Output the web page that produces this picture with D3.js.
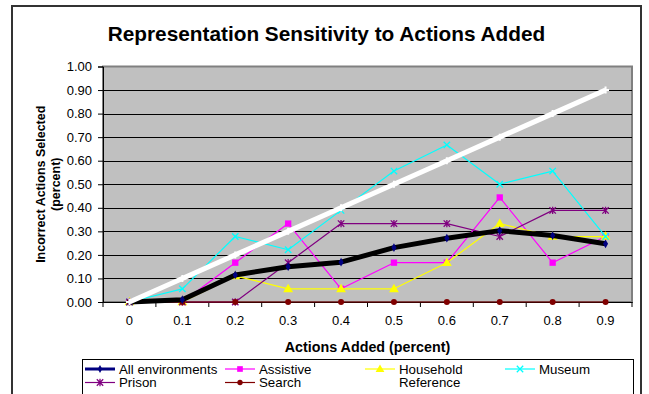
<!DOCTYPE html>
<html><head><meta charset="utf-8">
<script src="https://cdn.jsdelivr.net/npm/d3@7"></script>
<style>body{margin:0;background:#fff}svg{display:block;font-family:"Liberation Sans",Arial,sans-serif}</style>
</head><body><svg id="c" width="649" height="394"></svg>
<script>
const categories = ["0","0.1","0.2","0.3","0.4","0.5","0.6","0.7","0.8","0.9"];
const yTicks = [0,0.1,0.2,0.3,0.4,0.5,0.6,0.7,0.8,0.9,1.0];
const allEnv    = [0, 0.01, 0.115, 0.15, 0.169, 0.231, 0.271, 0.303, 0.282, 0.247];
const assistive = [0, 0, 0.167, 0.333, 0.056, 0.167, 0.167, 0.444, 0.167, 0.278];
const household = [0, 0, 0.111, 0.056, 0.056, 0.056, 0.167, 0.333, 0.278, 0.278];
const museum    = [0, 0.056, 0.278, 0.222, 0.389, 0.556, 0.667, 0.5, 0.556, 0.278];
const prison    = [0, 0, 0, 0.167, 0.333, 0.333, 0.333, 0.278, 0.389, 0.389];
const search    = [0, 0, 0, 0, 0, 0, 0, 0, 0, 0];
const reference = [0, 0.1, 0.2, 0.3, 0.4, 0.5, 0.6, 0.7, 0.8, 0.9];
const seriesNames = ["All environments","Assistive","Household","Museum","Prison","Search","Reference"];

const series = [
  {name:seriesNames[0], values:allEnv, color:"#000080", lineColor:"#000000", width:5, legendWidth:3, marker:"diamond"},
  {name:seriesNames[1], values:assistive, color:"#FF00FF", lineColor:"#FF00FF", width:1.2, legendWidth:1.2, marker:"square"},
  {name:seriesNames[2], values:household, color:"#FFFF00", lineColor:"#FFFF00", width:1.2, legendWidth:1.2, marker:"triangle"},
  {name:seriesNames[3], values:museum, color:"#00FFFF", lineColor:"#00FFFF", width:1.2, legendWidth:1.2, marker:"x"},
  {name:seriesNames[4], values:prison, color:"#800080", lineColor:"#800080", width:1.2, legendWidth:1.2, marker:"star"},
  {name:seriesNames[5], values:search, color:"#800000", lineColor:"#800000", width:1.2, legendWidth:1.2, marker:"circle"},
  {name:seriesNames[6], values:reference, color:"#FFFFFF", lineColor:"#FFFFFF", width:5, legendWidth:3, marker:"plus"}
];

const svg = d3.select("#c");
const W = 649, H = 394;
const L = 103, R = 632, T = 66.5, B = 302;

svg.append("rect").attr("x",0).attr("y",0).attr("width",W).attr("height",H).attr("fill","#fff");
svg.append("rect").attr("x",12).attr("y",6).attr("width",629).attr("height",420)
  .attr("fill","#fff").attr("stroke","#333").attr("stroke-width",2);

const x = d3.scaleBand().domain(categories).range([L,R]);
const y = d3.scaleLinear().domain([0,1]).range([B,T]);

// plot area
svg.append("rect").attr("x",L).attr("y",T).attr("width",R-L).attr("height",B-T)
  .attr("fill","#C0C0C0").attr("stroke","#808080").attr("stroke-width",2);

// gridlines
svg.append("g").selectAll("line").data(yTicks.filter(d=>d>0 && d<1)).join("line")
  .attr("x1",L).attr("x2",R).attr("y1",d=>Math.round(y(d))+0.5).attr("y2",d=>Math.round(y(d))+0.5)
  .attr("stroke","#000").attr("stroke-width",1);

// axes
const yAxis = d3.axisLeft(y).tickValues(yTicks).tickFormat(d3.format(".2f")).tickSize(5).tickPadding(6);
const gy = svg.append("g").attr("transform",`translate(${L},0)`).call(yAxis);
gy.selectAll("text").attr("font-size",13).attr("fill","#000").attr("font-family","Liberation Sans, Arial");
gy.select(".domain").attr("stroke","#000");
gy.selectAll(".tick line").attr("stroke","#000");

const xAxis = d3.axisBottom(x).tickSize(0).tickPadding(14);
const gx = svg.append("g").attr("transform",`translate(0,${B})`).call(xAxis);
gx.selectAll("text").attr("font-size",13).attr("fill","#000").attr("font-family","Liberation Sans, Arial");
gx.select(".domain").attr("stroke","#000");
// ticks between categories
const bounds = categories.map(c=>x(c)).concat([x(categories[categories.length-1])+x.bandwidth()]);
gx.append("g").selectAll("line").data(bounds).join("line")
  .attr("x1",d=>d).attr("x2",d=>d).attr("y1",0).attr("y2",5).attr("stroke","#000");

// marker drawing
function drawMarker(g, type, color, cx, cy, scale){
  const s = scale||1;
  if(type==="diamond"){
    g.append("path").attr("d",d3.symbol(d3.symbolDiamond, 22*s)()).attr("transform",`translate(${cx},${cy})`).attr("fill",color);
  } else if(type==="square"){
    g.append("path").attr("d",d3.symbol(d3.symbolSquare, 40*s)()).attr("transform",`translate(${cx},${cy})`).attr("fill",color);
  } else if(type==="triangle"){
    g.append("path").attr("d",d3.symbol(d3.symbolTriangle, 42*s)()).attr("transform",`translate(${cx},${cy+0.5})`).attr("fill",color);
  } else if(type==="circle"){
    g.append("circle").attr("cx",cx).attr("cy",cy).attr("r",3*Math.sqrt(s)).attr("fill",color);
  } else if(type==="x"){
    const r=3.2;
    g.append("path").attr("d",`M${cx-r},${cy-r}L${cx+r},${cy+r}M${cx-r},${cy+r}L${cx+r},${cy-r}`).attr("stroke",color).attr("stroke-width",1.3).attr("fill","none");
  } else if(type==="star"){
    const r=3.2;
    g.append("path").attr("d",`M${cx-r},${cy-r}L${cx+r},${cy+r}M${cx-r},${cy+r}L${cx+r},${cy-r}M${cx},${cy-r-0.5}L${cx},${cy+r+0.5}`).attr("stroke",color).attr("stroke-width",1.3).attr("fill","none");
  } else if(type==="plus"){
    const r=3.5;
    g.append("path").attr("d",`M${cx},${cy-r}L${cx},${cy+r}M${cx-r},${cy}L${cx+r},${cy}`).attr("stroke",color).attr("stroke-width",2).attr("fill","none");
  }
}

const cxOf = c => x(c)+x.bandwidth()/2;
const line = d3.line().x((d,i)=>cxOf(categories[i])).y(d=>y(d));

const drawOrder = [1,2,3,4,5,0,6];
const plotG = svg.append("g");
drawOrder.forEach(k=>{
  const s = series[k];
  const g = plotG.append("g");
  g.append("path").datum(s.values).attr("d",line).attr("fill","none")
    .attr("stroke",s.lineColor).attr("stroke-width",s.width).attr("stroke-linejoin","round");
  s.values.forEach((v,i)=>drawMarker(g, s.marker, s.color, cxOf(categories[i]), y(v)));
});

// title
svg.append("text").attr("x",326.5).attr("y",41).attr("text-anchor","middle")
  .attr("font-size",20.8).attr("font-weight","bold").text("Representation Sensitivity to Actions Added");

// x title
svg.append("text").attr("x",(L+R)/2).attr("y",352).attr("text-anchor","middle")
  .attr("font-size",14.3).attr("font-weight","bold").text("Actions Added (percent)");

// y title
const yt = svg.append("text").attr("transform",`translate(44.5,${(T+B)/2}) rotate(-90)`)
  .attr("text-anchor","middle").attr("font-size",12.5).attr("font-weight","bold");
yt.append("tspan").attr("x",0).attr("dy",0).text("Incorrect Actions Selected");
yt.append("tspan").attr("x",0).attr("dy",15).text("(percent)");

// legend
const lg = svg.append("g");
lg.append("rect").attr("x",82.5).attr("y",359.5).attr("width",551).attr("height",60)
  .attr("fill","#fff").attr("stroke","#000").attr("stroke-width",1);
series.forEach((s,i)=>{
  const col = i<4 ? i : i-4;
  const row = i<4 ? 0 : 1;
  const lx = 85 + col*140;
  const ly = 369 + row*13.5;
  lg.append("line").attr("x1",lx).attr("x2",lx+30).attr("y1",ly).attr("y2",ly)
    .attr("stroke",s.color).attr("stroke-width",s.legendWidth);
  drawMarker(lg, s.marker, s.color, lx+15, ly, 0.8);
  lg.append("text").attr("x",lx+34).attr("y",ly+4.5).attr("font-size",13.3).text(s.name);
});
</script>
</body></html>
